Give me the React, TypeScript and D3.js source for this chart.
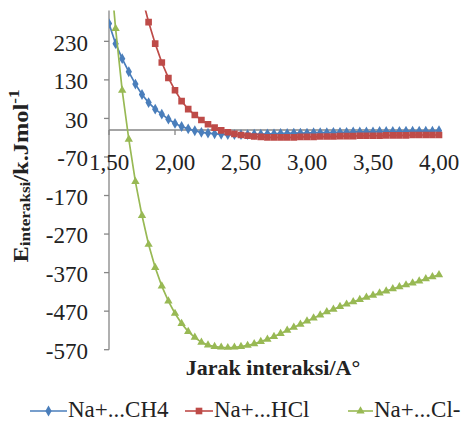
import React from "react";
import * as d3 from "d3";

// interaction distance (A°)
const jarak = [
  1.5, 1.55, 1.6, 1.65, 1.7, 1.75, 1.8, 1.85, 1.9, 1.95,
  2.0, 2.05, 2.1, 2.15, 2.2, 2.25, 2.3, 2.35, 2.4, 2.45,
  2.5, 2.55, 2.6, 2.65, 2.7, 2.75, 2.8, 2.85, 2.9, 2.95,
  3.0, 3.05, 3.1, 3.15, 3.2, 3.25, 3.3, 3.35, 3.4, 3.45,
  3.5, 3.55, 3.6, 3.65, 3.7, 3.75, 3.8, 3.85, 3.9, 3.95,
  4.0,
];

const ch4 = [
  276, 224, 185, 151, 119, 92, 71, 54, 41, 28,
  17, 9, 3, -2, -6, -8, -10, -11, -12, -12,
  -12, -12, -11, -11, -10, -10, -9, -9, -8, -8,
  -8, -7, -7, -7, -6, -6, -6, -5, -5, -5,
  -5, -4, -4, -4, -4, -3, -3, -3, -3, -3,
  -2,
];

const hcl = [
  null, null, null, null, null, 345, 280, 224, 175, 135,
  103, 75, 54, 39, 26, 15, 6, -1, -6, -10,
  -13, -15, -17, -18, -19, -19, -19, -19, -19, -18,
  -18, -18, -17, -17, -17, -16, -16, -16, -15, -15,
  -15, -15, -14, -14, -14, -14, -13, -13, -13, -13,
  -13,
];

const cl = [
  455, 263, 103, -24, -134, -222, -297, -357, -405, -444,
  -476, -502, -523, -538, -551, -558, -562, -564, -565, -564,
  -562, -559, -555, -549, -543, -536, -528, -520, -512, -504,
  -496, -488, -480, -472, -465, -458, -452, -446, -440, -434,
  -429, -423, -418, -412, -407, -402, -397, -392, -386, -381,
  -376,
];

const seriesNames = ["Na+...CH4", "Na+...HCl", "Na+...Cl-"];
const xTicks = [1.5, 2.0, 2.5, 3.0, 3.5, 4.0];
const yTicks = [230, 130, 30, -70, -170, -270, -370, -470, -570];

const W = 465;
const H = 422;
const font = "Liberation Serif";
const axisColor = "#868686";

const x = d3.scaleLinear().domain([1.5, 4.0]).range([109, 439]);
const y = d3.scaleLinear().domain([-570, 310]).range([349.7, 10.5]);

const fmt = (v: number) => v.toFixed(2).replace(".", ",");

const series = [
  { name: seriesNames[0], values: ch4, color: "#4A7EBB", symbol: d3.symbolDiamond, size: 34 },
  { name: seriesNames[1], values: hcl, color: "#BE4B48", symbol: d3.symbolSquare, size: 44 },
  { name: seriesNames[2], values: cl, color: "#98B954", symbol: d3.symbolTriangle, size: 30 },
];

const legendPos = [
  { x1: 30, x2: 67 },
  { x1: 185, x2: 213 },
  { x1: 348, x2: 373 },
];

export default function App() {
  const line = d3
    .line<[number, number | null]>()
    .defined((d) => d[1] !== null)
    .x((d) => x(d[0]))
    .y((d) => y(d[1] as number));

  const [x0, x1] = x.range();
  const [yb, yt] = y.range();

  return (
    <svg
      width={W}
      height={H}
      style={{ position: "absolute", left: 0, top: 0, background: "#fff", fontFamily: font }}
    >
      <defs>
        <clipPath id="plot">
          <rect x={x0} y={yt} width={x1 - x0 + 6} height={yb - yt} />
        </clipPath>
      </defs>

      {/* y axis */}
      <line x1={x0} x2={x0} y1={yt} y2={yb} stroke={axisColor} strokeWidth={1.3} />
      {yTicks.map((t) => (
        <g key={t}>
          <line x1={x0 - 5} x2={x0} y1={y(t)} y2={y(t)} stroke={axisColor} strokeWidth={1.3} />
          <text
            x={88}
            y={y(t)}
            dy="0.4em"
            textAnchor="end"
            style={{ fontFamily: font, fontSize: 23 }}
            fill="#222"
          >
            {t}
          </text>
        </g>
      ))}

      {/* x axis crossing at 0 */}
      <line x1={x0} x2={x1 + 2} y1={y(0)} y2={y(0)} stroke={axisColor} strokeWidth={1.3} />
      {xTicks.map((t) => (
        <g key={t}>
          <line x1={x(t)} x2={x(t)} y1={y(0)} y2={y(0) + 5} stroke={axisColor} strokeWidth={1.3} />
          <text
            x={x(t)}
            y={170}
            textAnchor="middle"
            style={{ fontFamily: font, fontSize: 23 }}
            fill="#222"
          >
            {fmt(t)}
          </text>
        </g>
      ))}

      {/* series */}
      <g clipPath="url(#plot)">
        {series.map((s) => {
          const pts = jarak.map((d, i) => [d, s.values[i]] as [number, number | null]);
          const sym = d3.symbol().type(s.symbol).size(s.size)();
          return (
            <g key={s.name}>
              <path d={line(pts) || ""} fill="none" stroke={s.color} strokeWidth={1.7} />
              {pts
                .filter((p) => p[1] !== null)
                .map((p, i) => (
                  <path
                    key={i}
                    d={sym || ""}
                    transform={`translate(${x(p[0])},${y(p[1] as number)})`}
                    fill={s.color}
                  />
                ))}
            </g>
          );
        })}
      </g>

      {/* axis titles */}
      <text
        transform="translate(28,176) rotate(-90) scale(1.22,1)"
        textAnchor="middle"
        style={{ fontFamily: font, fontSize: 20, fontWeight: "bold" }}
        fill="#222"
      >
        <tspan>E</tspan>
        <tspan style={{ fontSize: 14 }} dy={2}>interaksi</tspan>
        <tspan dy={-2}>/k.Jmol</tspan>
        <tspan style={{ fontSize: 14 }} dy={-9}>-1</tspan>
      </text>
      <text
        x={273}
        y={375}
        textAnchor="middle"
        style={{ fontFamily: font, fontSize: 22, fontWeight: "bold" }}
        fill="#222"
      >
        Jarak interaksi/A°
      </text>

      {/* legend */}
      {series.map((s, i) => {
        const p = legendPos[i];
        const sym = d3.symbol().type(s.symbol).size(s.size)();
        const mid = (p.x1 + p.x2) / 2;
        return (
          <g key={s.name}>
            <line x1={p.x1} x2={p.x2} y1={411} y2={411} stroke={s.color} strokeWidth={1.6} />
            <path d={sym || ""} transform={`translate(${mid},411)`} fill={s.color} />
            <text x={p.x2 + 1} y={416.5} style={{ fontFamily: font, fontSize: 23 }} fill="#222">
              {s.name}
            </text>
          </g>
        );
      })}
    </svg>
  );
}
